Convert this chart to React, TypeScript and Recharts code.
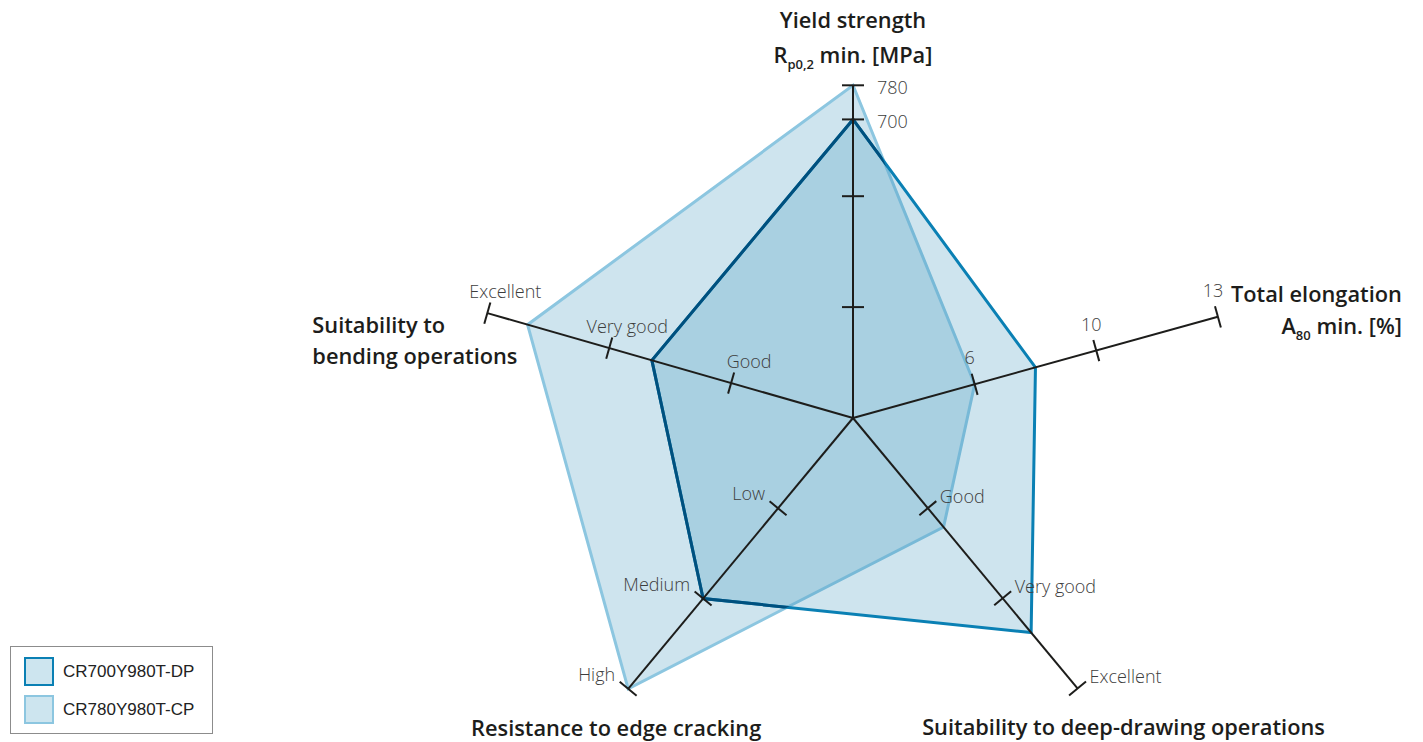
import { RadarChart, Radar, PolarAngleAxis, PolarRadiusAxis, Legend } from 'recharts'

// axes clockwise from the top
const axisTitles = [
  ['Yield strength', 'R_{p0,2} min. [MPa]'],
  ['Total elongation', 'A_{80} min. [%]'],
  ['Suitability to deep-drawing operations'],
  ['Resistance to edge cracking'],
  ['Suitability to', 'bending operations'],
]

const seriesNames = ['CR700Y980T-DP', 'CR780Y980T-CP']

// yield strength, MPa (two unlabelled ticks)
const yieldTicks = [260, 520, 700, 780]
const yieldTickLabels = ['', '', '700', '780']
const yieldStops = [0, 260, 520, 780]
// total elongation, %
const elongationTicks = [6, 10, 13]
// ratings, scored 1..3
const deepDrawingLevels = ['Good', 'Very good', 'Excellent']
const edgeCrackingLevels = ['Low', 'Medium', 'High']
const bendingLevels = ['Good', 'Very good', 'Excellent']

// yield, elongation, deep drawing, edge cracking, bending
const dpValues = [700, 8, 2.38, 2, 1.65]
const cpValues = [780, 6, 1.21, 3, 2.67]

const levelStops = [0, 1, 2, 3]
const axisStops = [yieldStops, [0, ...elongationTicks], levelStops, levelStops, levelStops]
const levelTicks = (levels: string[]) => levels.map((label, i) => ({ v: i + 1, label }))
const axisTicks = [
  yieldTicks.map((v, i) => ({ v, label: yieldTickLabels[i] })),
  elongationTicks.map(v => ({ v, label: String(v) })),
  levelTicks(deepDrawingLevels),
  levelTicks(edgeCrackingLevels),
  levelTicks(bendingLevels),
]

// layout
const W = 1423
const H = 742
const CX = 853
const CY = 418
const OUTER = 381
const AXIS_ANGLE = [90, 15.5, 309.7, 230.3, 164]
const AXIS_LENGTH = [332.7, 378.7, 351.5, 352, 380.4]
const TICK_HALF = 11
const TICK_LABEL = [
  { anchor: 'start', dx: 24, dy: 2 },
  { anchor: 'middle', dx: -5, dy: -27 },
  { anchor: 'start', dx: 12, dy: -12 },
  { anchor: 'end', dx: -13, dy: -15 },
  { anchor: 'middle', dx: 18, dy: -22 },
]
const TITLE_POS = [
  { anchor: 'middle', dx: 0, dy: [-57, -22] },
  { anchor: 'end', dx: 184, dy: [-15, 17] },
  { anchor: 'middle', dx: 46, dy: [47] },
  { anchor: 'middle', dx: -12, dy: [47] },
  { anchor: 'start', dx: -175, dy: [20, 51] },
]

const INK = '#1d1d1b'
const LABEL_INK = '#3d3d3d'
const NAVY = '#00507e'
const DP_BLUE = '#0a80b4'
const CP_BLUE = '#8cc6e0'
const AREA = '#3a95bd'
const SWATCH = '#cde5ef'
const FONT = "'Open Sans', Lato, sans-serif"

// piecewise-linear position (0..3 steps) of a value on an axis
const toStep = (stops: number[], v: number) => {
  for (let i = 1; i < stops.length; i++) {
    if (v <= stops[i] || i === stops.length - 1) {
      return i - 1 + (v - stops[i - 1]) / (stops[i] - stops[i - 1])
    }
  }
  return 0
}

const toRadius = (i: number, v: number) =>
  (toStep(axisStops[i], v) / 3) * (AXIS_LENGTH[i] / OUTER)

const rows = axisTitles.map((_, i) => ({
  angle: AXIS_ANGLE[i],
  reach: AXIS_LENGTH[i] / OUTER,
  dp: toRadius(i, dpValues[i]),
  cp: toRadius(i, cpValues[i]),
}))

const pointList = (points: any[]) => points.map(p => `${p.x},${p.y}`).join(' ')

const renderLine = (line: string) =>
  line.split(/_\{([^}]*)\}/).map((part, j) =>
    j % 2 === 1 ? (
      <tspan key={j} fontSize={13} dy={6}>{part}</tspan>
    ) : (
      <tspan key={j} dy={j > 0 ? -6 : 0}>{part}</tspan>
    ),
  )

const CpShape = (props: any) => {
  const pts = pointList(props.points)
  return (
    <g>
      <defs>
        <clipPath id="cp-area">
          <polygon points={pts} />
        </clipPath>
      </defs>
      <polygon points={pts} fill={AREA} fillOpacity={0.25} stroke={CP_BLUE} strokeWidth={3} />
    </g>
  )
}

// inside the CP area the DP outline is drawn darker
const DpInnerEdge = (props: any) => (
  <polygon
    points={pointList(props.points)}
    fill="none"
    stroke={NAVY}
    strokeWidth={3}
    clipPath="url(#cp-area)"
  />
)

const AxisFrame = (props: any) => (
  <g>
    {props.points.map((p: any, i: number) => {
      const ex = p.x - p.cx
      const ey = p.y - p.cy
      const len = Math.hypot(ex, ey)
      const nx = -ey / len
      const ny = ex / len
      const lab = TICK_LABEL[i]
      const tp = TITLE_POS[i]
      return (
        <g key={i}>
          <line x1={p.cx} y1={p.cy} x2={p.x} y2={p.y} stroke={INK} strokeWidth={2} />
          {axisTicks[i].map((t, k) => {
            const f = toStep(axisStops[i], t.v) / 3
            const tx = p.cx + ex * f
            const ty = p.cy + ey * f
            return (
              <g key={k}>
                <line
                  x1={tx - nx * TICK_HALF}
                  y1={ty - ny * TICK_HALF}
                  x2={tx + nx * TICK_HALF}
                  y2={ty + ny * TICK_HALF}
                  stroke={INK}
                  strokeWidth={2}
                />
                {t.label && (
                  <text
                    x={tx + lab.dx}
                    y={ty + lab.dy}
                    textAnchor={lab.anchor as any}
                    dominantBaseline="central"
                    fontFamily={FONT}
                    fontWeight={300}
                    fontSize={18}
                    fill={LABEL_INK}
                  >
                    {t.label}
                  </text>
                )}
              </g>
            )
          })}
          {axisTitles[i].map((line, k) => (
            <text
              key={k}
              x={p.x + tp.dx}
              y={p.y + tp.dy[k]}
              textAnchor={tp.anchor as any}
              fontFamily={FONT}
              fontWeight={600}
              fontSize={21.8}
              fill={INK}
              style={{ whiteSpace: 'pre' }}
            >
              {renderLine(line)}
            </text>
          ))}
        </g>
      )
    })}
  </g>
)

const LegendBox = (props: any) => {
  const entries = seriesNames
    .map(n => (props.payload ?? []).find((e: any) => e.value === n))
    .filter(Boolean)
  return (
    <div
      style={{
        width: 203,
        height: 88,
        boxSizing: 'border-box',
        border: '1px solid #8c8c8c',
        background: '#fff',
        padding: '10px 0 0 13px',
      }}
    >
      {entries.map((e: any) => (
        <div key={e.value} style={{ display: 'flex', alignItems: 'center', height: 29, marginBottom: 9 }}>
          <span
            style={{
              width: 30,
              height: 29,
              boxSizing: 'border-box',
              border: `2px solid ${e.color}`,
              background: SWATCH,
            }}
          />
          <span
            style={{
              marginLeft: 9,
              fontFamily: "'Liberation Sans', Arial, sans-serif",
              fontSize: 17,
              color: '#222',
            }}
          >
            {e.value}
          </span>
        </div>
      ))}
    </div>
  )
}

export default function App() {
  return (
    <div style={{ position: 'fixed', left: 0, top: 0, width: W, height: H, overflow: 'hidden', background: '#fff' }}>
      <RadarChart
        width={W}
        height={H}
        data={rows}
        cx={CX}
        cy={CY}
        outerRadius={OUTER}
        startAngle={0}
        endAngle={360}
        margin={{ top: 0, right: 0, bottom: 0, left: 0 }}
      >
        <PolarAngleAxis dataKey="angle" type="number" domain={[0, 360]} tick={false} axisLine={false} tickLine={false} />
        <PolarRadiusAxis type="number" domain={[0, 1]} tick={false} axisLine={false} />
        <Radar
          name={seriesNames[1]}
          dataKey="cp"
          stroke={CP_BLUE}
          fill={AREA}
          shape={CpShape}
          isAnimationActive={false}
        />
        <Radar
          name={seriesNames[0]}
          dataKey="dp"
          stroke={DP_BLUE}
          strokeWidth={3}
          fill={AREA}
          fillOpacity={0.25}
          isAnimationActive={false}
        />
        <Radar dataKey="dp" legendType="none" shape={DpInnerEdge} isAnimationActive={false} />
        <Radar dataKey="reach" legendType="none" fill="none" stroke="none" shape={AxisFrame} isAnimationActive={false} />
        <Legend
          layout="vertical"
          align="center"
          verticalAlign="middle"
          content={LegendBox}
          wrapperStyle={{ left: 10, top: 646, width: 203 }}
        />
      </RadarChart>
    </div>
  )
}
